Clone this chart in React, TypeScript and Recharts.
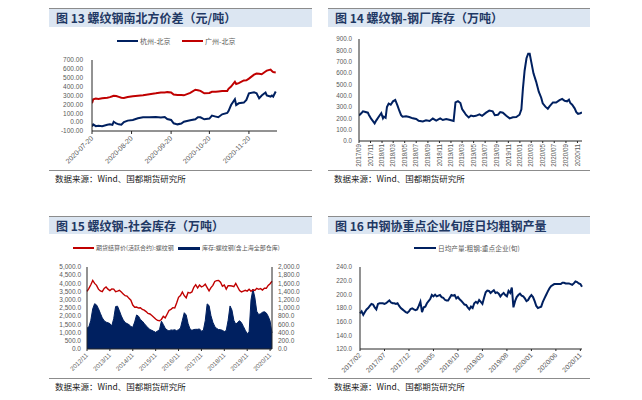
import React from 'react';
import { LineChart, Line, XAxis, YAxis, ComposedChart, Area } from 'recharts';

const FONT_CJK = "'Noto Sans CJK SC', 'Noto Sans', sans-serif";
const FONT_NUM = "'Liberation Sans', Arial, sans-serif";
const NAVY = '#002060';
const RED = '#C00000';
const TICK_GREY = '#595959';
const AXIS = '#262626';

// ---------- Chart 13: 螺纹钢南北方价差 ----------
const spreadDates = ["2020-07-20","2020-07-21","2020-07-23","2020-07-25","2020-07-28","2020-08-01","2020-08-03","2020-08-05","2020-08-06","2020-08-08","2020-08-10","2020-08-12","2020-08-14","2020-08-17","2020-08-21","2020-08-25","2020-08-29","2020-09-03","2020-09-08","2020-09-12","2020-09-15","2020-09-17","2020-09-20","2020-09-22","2020-09-25","2020-09-28","2020-09-30","2020-10-05","2020-10-09","2020-10-11","2020-10-13","2020-10-16","2020-10-20","2020-10-22","2020-10-25","2020-10-27","2020-10-30","2020-11-03","2020-11-04","2020-11-06","2020-11-09","2020-11-10","2020-11-12","2020-11-16","2020-11-18","2020-11-20","2020-11-24","2020-11-26","2020-11-28","2020-11-30","2020-12-03","2020-12-04","2020-12-07","2020-12-08","2020-12-09","2020-12-11"];
const hangzhouBeijing = [-50,-25,-45,-40,-45,-30,-25,-30,5,-15,-25,-30,0,17,25,43,55,55,58,52,58,35,25,-13,-25,-15,5,20,32,55,55,32,40,73,62,55,88,103,125,193,257,193,212,220,250,325,337,325,268,300,333,300,288,300,288,345];
const guangzhouBeijing = [212,258,265,262,268,275,282,292,298,295,285,275,272,282,292,298,302,315,325,335,335,338,335,310,305,305,302,330,365,360,352,325,328,342,342,345,350,350,375,400,455,430,440,470,472,490,535,548,545,540,570,580,592,575,565,560];
const spreadTickLabels = ["2020-07-20","2020-08-20","2020-09-20","2020-10-20","2020-11-20"];
const spreadYTicks = [-100,0,100,200,300,400,500,600,700];

// ---------- Chart 14: 钢厂库存 ----------
const millDates = ["2017-09-01","2017-09-13","2017-09-22","2017-10-01","2017-10-18","2017-10-23","2017-11-05","2017-11-14","2017-11-23","2017-12-01","2017-12-19","2017-12-28","2018-01-06","2018-01-11","2018-01-20","2018-01-27","2018-02-05","2018-02-16","2018-02-28","2018-03-12","2018-03-24","2018-04-03","2018-04-12","2018-04-20","2018-05-08","2018-05-25","2018-06-13","2018-07-01","2018-07-14","2018-08-05","2018-08-22","2018-09-10","2018-09-27","2018-10-15","2018-11-05","2018-11-19","2018-12-07","2018-12-28","2019-01-15","2019-01-25","2019-02-07","2019-02-20","2019-03-01","2019-03-13","2019-03-21","2019-04-05","2019-04-17","2019-04-30","2019-05-13","2019-06-01","2019-06-15","2019-07-06","2019-07-23","2019-08-10","2019-08-21","2019-09-07","2019-09-19","2019-10-03","2019-10-21","2019-11-08","2019-11-25","2019-12-13","2019-12-30","2020-01-09","2020-01-17","2020-01-26","2020-02-05","2020-02-14","2020-02-22","2020-03-01","2020-03-13","2020-03-27","2020-04-10","2020-04-23","2020-05-01","2020-05-15","2020-05-28","2020-06-06","2020-06-24","2020-07-11","2020-07-29","2020-08-12","2020-08-25","2020-09-07","2020-09-17","2020-09-24","2020-10-04","2020-10-17","2020-10-26","2020-11-04","2020-11-16","2020-11-25"];
const millStock = [225,244,262,258,250,232,194,176,155,180,225,245,200,215,205,300,330,320,350,362,312,265,228,215,218,212,200,194,178,172,182,176,198,180,200,185,194,185,176,340,352,335,282,253,232,208,225,218,222,235,222,250,268,262,228,232,255,250,222,200,210,212,232,280,460,620,730,770,770,700,597,524,435,382,332,303,285,305,340,340,360,372,355,350,365,335,320,288,255,240,245,252];
const millTickLabels = ["2017/09","2017/11","2018/01","2018/03","2018/05","2018/07","2018/09","2018/11","2019/01","2019/03","2019/05","2019/07","2019/09","2019/11","2020/01","2020/03","2020/05","2020/07","2020/09","2020/11"];
const millYTicks = [0,100,200,300,400,500,600,700,800,900];

// ---------- Chart 15: 社会库存 ----------
const socialStart = "2012/11";
const futuresPrice = [3517,3700,3920,4180,4000,3880,3650,3540,3500,3690,3780,3650,3560,3660,3650,3500,3530,3580,3470,3360,3250,3230,3090,2980,2680,2550,2560,2500,2510,2410,2370,2280,2170,2135,2040,1940,1830,1740,1720,1800,1990,1900,2120,2350,2420,2520,2500,2806,3150,3260,3480,3250,3120,3450,3410,3480,3760,3920,3720,3900,3790,3840,3950,3740,3540,3740,3880,4120,4170,4180,4070,3830,3900,3650,3860,3860,3840,3800,4000,3780,3560,3480,3530,3580,3530,3640,3520,3610,3570,3700,3640,3680,3590,3700,3700,3880,3985,4130];
const socialStock = [510,540,700,980,1105,1075,985,870,760,690,655,640,620,565,740,1035,1045,930,805,710,645,620,595,550,530,660,830,800,720,680,625,565,520,475,455,430,407,440,470,680,600,505,465,440,465,460,470,447,472,510,700,885,830,620,490,455,475,480,480,490,435,455,690,1100,1060,810,650,550,500,475,472,455,425,450,700,1050,950,700,605,650,690,640,550,455,375,420,1200,1460,1260,920,840,860,895,910,880,800,680,390];
const socialLeftTicks = [0,500,1000,1500,2000,2500,3000,3500,4000,4500,5000];
const socialRightTicks = [0,200,400,600,800,1000,1200,1400,1600,1800,2000];

// ---------- Chart 16: 重点企业旬度日均粗钢产量 ----------
const prodStart = "2017/02";
const prodTenDays = ["上","中","下"];
const dailyOutput = [172,175,170,174,178,180,183,186,185,181,178,186,187,187,187,186,187,189,191,188,187,187,186,187,183,180,178,176,174,173,175,178.5,179.5,178,177,178,183,189,174,181,182,187,190,193,199,197,199.5,197,198,199,196,195,192,191,191,195,199,198,199,194,196,192.6,190.6,188,185,184.5,181,178,182,180,187,189,187,191.6,189,186,195,203,205.5,205,202,204,206,202,203,201,197,200,202,199,197,205,202,210,181,190,196,199,201,198,197,194,190,191.6,196,199,196,190,183,180,181,182,189,194,199,204,208.5,212,213.5,215,215,215,215,215,217,217,216,216,216,215,214,216,219,218,216,215,211];
const prodYTicks = [120,140,160,180,200,220,240];

// ---------- helpers ----------
const DAY = 86400000;
const dayOffset = (d: string, base: string) => (Date.parse(d) - Date.parse(base)) / DAY;
const monthOffset = (d: string, base: string) => dayOffset(d, base) / 30.4375;
const monthSeq = (start: string, n: number) => {
  const [y0, m0] = start.split('/').map(Number);
  const out: string[] = [];
  for (let i = 0; i < n; i++) {
    const t = (y0 * 12 + (m0 - 1)) + i;
    const y = Math.floor(t / 12);
    const m = (t % 12) + 1;
    out.push(`${y}/${m < 10 ? '0' + m : m}`);
  }
  return out;
};

const spreadData = spreadDates.map((d, i) => ({ x: dayOffset(d, spreadDates[0]), hz: hangzhouBeijing[i], gz: guangzhouBeijing[i] }));
const spreadTicks = spreadTickLabels.map((d) => dayOffset(d, spreadDates[0]));

const millBase = "2017-09-01";
const millData = millDates.map((d, i) => ({ x: monthOffset(d, millBase), v: millStock[i] }));
const millTicks = millTickLabels.map((l) => monthOffset(l.replace('/', '-') + '-01', millBase));

const socialMonths = monthSeq(socialStart, futuresPrice.length);
const socialData = socialMonths.map((m, i) => ({ m, price: futuresPrice[i], stock: socialStock[i] }));

const prodCats = monthSeq(prodStart, Math.ceil(dailyOutput.length / 3))
  .flatMap((m) => prodTenDays.map((t) => m + t))
  .slice(0, dailyOutput.length);
const prodData = prodCats.map((c, i) => ({ c, v: dailyOutput[i] }));

const fmtThousands = (v: number) =>
  v.toLocaleString('en-US', { minimumFractionDigits: 1, maximumFractionDigits: 1 });

// ---------- tick renderers ----------
const yTick = (fmt: (v: any) => string, size: number, anchor: 'end' | 'start' = 'end') => (props: any) => {
  const { x, y, payload } = props;
  return (
    <text x={x} y={y} dy="0.35em" textAnchor={anchor} fontSize={size} fill={TICK_GREY} fontFamily={FONT_NUM}>
      {fmt(payload.value)}
    </text>
  );
};
const xTick = (fmt: (v: any) => string, size: number, angle: number) => (props: any) => {
  const { x, y, payload } = props;
  return (
    <g transform={`translate(${x},${y})`}>
      <text transform={`rotate(${angle})`} textAnchor="end" dy="0.35em" fontSize={size} fill={TICK_GREY} fontFamily={FONT_NUM}>
        {fmt(payload.value)}
      </text>
    </g>
  );
};

// ---------- decorations ----------
const TitleBar = ({ left, top, width, height, text }: any) => (
  <div style={{ position: 'absolute', left, top, width, height, background: '#DCE6F2', borderTop: '1px solid #8c8c8c', boxSizing: 'border-box' }}>
    <div style={{ position: 'absolute', left: 7, top: 0, height: height - 1, lineHeight: `${height - 1}px`, fontFamily: FONT_CJK, fontWeight: 700, fontSize: 12, color: '#1F3864', whiteSpace: 'nowrap' }}>
      {text}
    </div>
  </div>
);
const Source = ({ left, top, width }: any) => (
  <>
    <div style={{ position: 'absolute', left, top, width, height: 1, background: '#8c8c8c' }} />
    <div style={{ position: 'absolute', left: left + 6, top: top + 2, height: 12, lineHeight: '12px', fontFamily: FONT_CJK, fontSize: 8.5, color: '#1a1a1a', whiteSpace: 'nowrap' }}>
      数据来源：Wind、国都期货研究所
    </div>
  </>
);
const LegendItem = ({ left, top, color, text, thick = 2, len = 21, size = 7 }: any) => (
  <div style={{ position: 'absolute', left, top: top - 6, height: 12, display: 'flex', alignItems: 'center', whiteSpace: 'nowrap' }}>
    <div style={{ width: len, height: thick, background: color }} />
    <div style={{ marginLeft: 2, fontFamily: FONT_CJK, fontSize: size, color: TICK_GREY, lineHeight: '12px' }}>{text}</div>
  </div>
);

export default function App() {
  return (
    <div style={{ position: 'absolute', left: 0, top: 0, width: 642, height: 400, background: '#fff', overflow: 'hidden' }}>
      {/* Panel 13 */}
      <TitleBar left={49} top={8} width={263} height={19} text="图 13 螺纹钢南北方价差（元/吨）" />
      <LegendItem left={117} top={40.7} color={NAVY} text="杭州-北京" />
      <LegendItem left={182} top={40.7} color={RED} text="广州-北京" />
      <div style={{ position: 'absolute', left: 49, top: 50 }}>
        <LineChart width={263} height={120} data={spreadData} margin={{ top: 10, right: 35, bottom: 0, left: 0 }}>
          <XAxis type="number" dataKey="x" domain={[0, 145]} allowDataOverflow ticks={spreadTicks} interval={0}
            height={39} tickSize={3} tickMargin={3} axisLine={{ stroke: AXIS }} tickLine={{ stroke: AXIS }}
            tick={xTick((v) => spreadTickLabels[spreadTicks.indexOf(v)] ?? '', 7, -45)} />
          <YAxis type="number" domain={[-100, 700]} allowDataOverflow ticks={spreadYTicks} interval={0} width={43}
            tickSize={6} tickMargin={3} tickLine={false} axisLine={{ stroke: AXIS }}
            tick={yTick((v) => Number(v).toFixed(2), 6.5)} />
          <Line dataKey="gz" stroke={RED} strokeWidth={2} dot={false} isAnimationActive={false} type="linear" />
          <Line dataKey="hz" stroke={NAVY} strokeWidth={2} dot={false} isAnimationActive={false} type="linear" />
        </LineChart>
      </div>
      <Source left={49} top={170} width={263} />

      {/* Panel 14 */}
      <TitleBar left={328} top={8} width={262} height={19} text="图 14 螺纹钢-钢厂库存（万吨）" />
      <div style={{ position: 'absolute', left: 328, top: 28 }}>
        <LineChart width={262} height={142} data={millData} margin={{ top: 11, right: 8, bottom: 0, left: 0 }}>
          <XAxis type="number" dataKey="x" domain={[0, monthOffset("2020-11-25", millBase)]} allowDataOverflow ticks={millTicks} interval={0}
            height={29} tickSize={2} tickMargin={1} axisLine={{ stroke: AXIS }} tickLine={{ stroke: AXIS }}
            tick={xTick((v) => millTickLabels[millTicks.indexOf(v)] ?? '', 6.3, -90)} />
          <YAxis type="number" domain={[0, 900]} allowDataOverflow ticks={millYTicks} interval={0} width={31}
            tickSize={6} tickMargin={1} tickLine={false} axisLine={{ stroke: AXIS }}
            tick={yTick((v) => Number(v).toFixed(1), 6.3)} />
          <Line dataKey="v" stroke={NAVY} strokeWidth={2} dot={false} isAnimationActive={false} type="linear" />
        </LineChart>
      </div>
      <Source left={328} top={170} width={262} />

      {/* Panel 15 */}
      <TitleBar left={49} top={216} width={263} height={18} text="图 15 螺纹钢-社会库存（万吨）" />
      <LegendItem left={73} top={248.3} color={RED} text="期货结算价(活跃合约):螺纹钢" size={6} />
      <LegendItem left={178} top={248.3} color={NAVY} thick={3} len={22} text="库存:螺纹钢(含上海全部仓库)" size={6} />
      <div style={{ position: 'absolute', left: 49, top: 255 }}>
        <ComposedChart width={263} height={123} data={socialData} margin={{ top: 12, right: 0, bottom: 0, left: 0 }}>
          <XAxis dataKey="m" interval={11} height={29} tickSize={2} tickMargin={3}
            axisLine={{ stroke: AXIS }} tickLine={{ stroke: AXIS }}
            tick={xTick((v) => String(v), 6.3, -45)} />
          <YAxis yAxisId="left" type="number" domain={[0, 5000]} allowDataOverflow ticks={socialLeftTicks} interval={0} width={38}
            tickSize={4} tickMargin={2} tickLine={false} axisLine={{ stroke: AXIS }}
            tick={yTick(fmtThousands, 6.5)} />
          <YAxis yAxisId="right" orientation="right" type="number" domain={[0, 2000]} allowDataOverflow ticks={socialRightTicks} interval={0} width={40}
            tickSize={4} tickMargin={2} tickLine={false} axisLine={{ stroke: AXIS }}
            tick={yTick(fmtThousands, 6.5, 'start')} />
          <Area yAxisId="right" dataKey="stock" type="linear" stroke={NAVY} strokeWidth={1} fill={NAVY} fillOpacity={1} dot={false} isAnimationActive={false} />
          <Line yAxisId="left" dataKey="price" type="linear" stroke={RED} strokeWidth={1.4} dot={false} isAnimationActive={false} />
        </ComposedChart>
      </div>
      <Source left={49} top={378} width={263} />

      {/* Panel 16 */}
      <TitleBar left={328} top={216} width={262} height={18} text="图 16 中钢协重点企业旬度日均粗钢产量" />
      <LegendItem left={414} top={248.3} color={NAVY} len={22} text="日均产量:粗钢:重点企业(旬)" size={6.7} />
      <div style={{ position: 'absolute', left: 328, top: 255 }}>
        <LineChart width={262} height={123} data={prodData} margin={{ top: 12, right: 8, bottom: 0, left: 0 }}>
          <XAxis dataKey="c" interval={14} height={29} tickSize={2} tickMargin={3}
            axisLine={{ stroke: AXIS }} tickLine={{ stroke: AXIS }}
            tick={xTick((v) => String(v).slice(0, 7), 6.8, -45)} />
          <YAxis type="number" domain={[120, 240]} allowDataOverflow ticks={prodYTicks} interval={0} width={32}
            tickSize={6} tickMargin={2} tickLine={false} axisLine={{ stroke: AXIS }}
            tick={yTick((v) => Number(v).toFixed(1), 6.3)} />
          <Line dataKey="v" stroke={NAVY} strokeWidth={2} dot={false} isAnimationActive={false} type="linear" />
        </LineChart>
      </div>
      <Source left={328} top={378} width={262} />
    </div>
  );
}
